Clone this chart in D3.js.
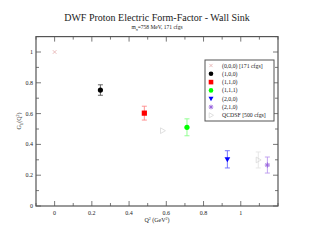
<!DOCTYPE html>
<html>
<head>
<meta charset="utf-8">
<script src="https://cdn.jsdelivr.net/npm/d3@7"></script>
<style>
  body { margin: 0; background: #fff; }
  text { font-family: "Liberation Serif", "DejaVu Serif", serif; fill: #222; }
</style>
</head>
<body>
<div id="chart"></div>
<script>
// Data
const seriesNames = ["(0,0,0) [171 cfgs]", "(1,0,0)", "(1,1,0)", "(1,1,1)", "(2,0,0)", "(2,1,0)", "QCDSF [500 cfgs]"];
const seriesQ2 = [[0.0], [0.246], [0.482], [0.711], [0.928], [1.143], [0.58, 1.094]];
const seriesGE = [[1.0], [0.753], [0.603], [0.511], [0.303], [0.266], [0.489, 0.299]];
const seriesErr = [[0], [0.034], [0.045], [0.055], [0.056], [0.052], [0, 0.052]];
const seriesColor = ["#e6b4b4", "#000000", "#ff0000", "#00ff00", "#0000ff", "#9966dd", "#d8d8d8"];
const seriesErrColor = ["#e6b4b4", "#555555", "#ff8888", "#88ff88", "#6666ff", "#bb99ee", "#e4e4e4"];
const seriesShape = ["cross", "circle", "square", "circle", "tridown", "star", "triright"];
const xTicks = [0, 0.2, 0.4, 0.6, 0.8, 1];
const yTicks = [0, 0.2, 0.4, 0.6, 0.8, 1];

const W = 314, H = 243;
const svg = d3.select("#chart").append("svg").attr("width", W).attr("height", H);

const x = d3.scaleLinear().domain([-0.1, 1.2]).range([36, 278]);
const y = d3.scaleLinear().domain([0, 1.1]).range([206, 36.6]);

const axisCol = "#555";

// Frame
svg.append("rect")
  .attr("x", x.range()[0]).attr("y", y.range()[1])
  .attr("width", x.range()[1] - x.range()[0])
  .attr("height", y.range()[0] - y.range()[1])
  .attr("fill", "none").attr("stroke", axisCol).attr("stroke-width", 1.2);

// Ticks, inward on all four sides
const xMinor = d3.range(-0.1, 1.2001, 0.1).map(d => +d.toFixed(2));
const yMinor = d3.range(0, 1.1001, 0.1).map(d => +d.toFixed(2));
const tg = svg.append("g").attr("stroke", axisCol).attr("stroke-width", 0.8);
xMinor.forEach(v => {
  const len = xTicks.includes(v) ? 5 : 3;
  tg.append("line").attr("x1", x(v)).attr("x2", x(v)).attr("y1", y(0)).attr("y2", y(0) - len);
  tg.append("line").attr("x1", x(v)).attr("x2", x(v)).attr("y1", y(1.1)).attr("y2", y(1.1) + len);
});
yMinor.forEach(v => {
  const len = yTicks.includes(v) ? 5 : 3;
  tg.append("line").attr("y1", y(v)).attr("y2", y(v)).attr("x1", x(-0.1)).attr("x2", x(-0.1) + len);
  tg.append("line").attr("y1", y(v)).attr("y2", y(v)).attr("x1", x(1.2)).attr("x2", x(1.2) - len);
});

// Tick labels
svg.append("g").selectAll("text").data(xTicks).join("text")
  .attr("x", d => x(d)).attr("y", y(0) + 9)
  .attr("text-anchor", "middle").attr("font-size", 6)
  .text(d => d3.format("")(d));
svg.append("g").selectAll("text").data(yTicks).join("text")
  .attr("x", x(-0.1) - 3).attr("y", d => y(d) + 2)
  .attr("text-anchor", "end").attr("font-size", 6)
  .text(d => d3.format("")(d));

// Titles
svg.append("text").attr("x", 157).attr("y", 21).attr("text-anchor", "middle")
  .attr("font-size", 10).text("DWF Proton Electric Form-Factor - Wall Sink");
const sub = svg.append("text").attr("x", 157).attr("y", 29).attr("text-anchor", "middle").attr("font-size", 5.5);
sub.append("tspan").text("m");
sub.append("tspan").attr("dy", 1.5).attr("font-size", 4).text("π");
sub.append("tspan").attr("dy", -1.5).text("=758 MeV,  171 cfgs");

const xl = svg.append("text").attr("x", 157).attr("y", 222).attr("text-anchor", "middle").attr("font-size", 6);
xl.append("tspan").text("Q");
xl.append("tspan").attr("dy", -2.5).attr("font-size", 4).text("2");
xl.append("tspan").attr("dy", 2.5).text(" (GeV");
xl.append("tspan").attr("dy", -2.5).attr("font-size", 4).text("2");
xl.append("tspan").attr("dy", 2.5).text(")");

const yl = svg.append("text").attr("transform", "translate(21,121) rotate(-90)")
  .attr("text-anchor", "middle").attr("font-size", 6);
yl.append("tspan").text("G");
yl.append("tspan").attr("dy", 1.5).attr("font-size", 4).text("E");
yl.append("tspan").attr("dy", -1.5).text("(Q");
yl.append("tspan").attr("dy", -2.5).attr("font-size", 4).text("2");
yl.append("tspan").attr("dy", 2.5).text(")");

// Marker drawing
function marker(g, shape, cx, cy, col, s) {
  if (shape === "cross") {
    g.append("path").attr("d", `M${cx-s},${cy-s}L${cx+s},${cy+s}M${cx-s},${cy+s}L${cx+s},${cy-s}`)
      .attr("stroke", col).attr("stroke-width", 0.9).attr("fill", "none");
  } else if (shape === "circle") {
    g.append("circle").attr("cx", cx).attr("cy", cy).attr("r", s).attr("fill", col);
  } else if (shape === "square") {
    g.append("rect").attr("x", cx - s).attr("y", cy - s).attr("width", 2 * s).attr("height", 2 * s).attr("fill", col);
  } else if (shape === "tridown") {
    g.append("path").attr("d", `M${cx-s*1.1},${cy-s*0.8}L${cx+s*1.1},${cy-s*0.8}L${cx},${cy+s*1.1}Z`).attr("fill", col);
  } else if (shape === "star") {
    g.append("path").attr("d", `M${cx-s},${cy}L${cx+s},${cy}M${cx},${cy-s}L${cx},${cy+s}M${cx-s*0.7},${cy-s*0.7}L${cx+s*0.7},${cy+s*0.7}M${cx-s*0.7},${cy+s*0.7}L${cx+s*0.7},${cy-s*0.7}`)
      .attr("stroke", col).attr("stroke-width", 1);
  } else if (shape === "triright") {
    g.append("path").attr("d", `M${cx-s*0.8},${cy-s*1.1}L${cx+s*1.1},${cy}L${cx-s*0.8},${cy+s*1.1}Z`)
      .attr("stroke", col).attr("stroke-width", 0.8).attr("fill", "none");
  }
}

// Error bars and points
const pg = svg.append("g");
seriesNames.forEach((name, i) => {
  seriesQ2[i].forEach((q, j) => {
    const e = seriesErr[i][j];
    const cx = x(q), cy = y(seriesGE[i][j]);
    if (e > 0) {
      const y1 = y(seriesGE[i][j] + e), y2 = y(seriesGE[i][j] - e);
      pg.append("path")
        .attr("d", `M${cx},${y1}L${cx},${y2}M${cx-2.5},${y1}L${cx+2.5},${y1}M${cx-2.5},${y2}L${cx+2.5},${y2}`)
        .attr("stroke", seriesErrColor[i]).attr("stroke-width", 0.9).attr("fill", "none");
    }
    marker(pg, seriesShape[i], cx, cy, seriesColor[i], seriesShape[i] === "cross" ? 1.8 : 2.6);
  });
});

// Legend
const lg = svg.append("g");
lg.append("rect").attr("x", 205).attr("y", 60).attr("width", 69).attr("height", 61)
  .attr("fill", "#fff").attr("stroke", axisCol).attr("stroke-width", 1);
seriesNames.forEach((name, i) => {
  const ly = 65.5 + i * 8.3;
  marker(lg, seriesShape[i], 211, ly, seriesColor[i], seriesShape[i] === "cross" ? 1.6 : 2.3);
  lg.append("text").attr("x", 222).attr("y", ly + 2).attr("font-size", 5.8).text(name);
});
</script>
</body>
</html>
